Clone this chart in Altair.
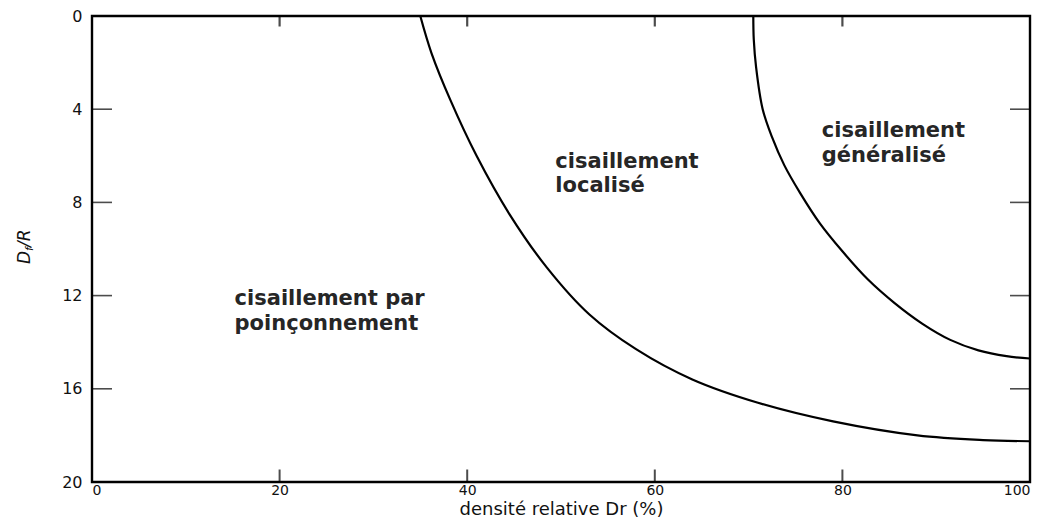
import altair as alt
import pandas as pd

# Curve 1: boundary punching shear / local shear
c1_dr = [35.0, 36.2, 38.2, 41.0, 44.5, 48.5, 53.0, 58.0, 64.0, 71.0, 79.0, 88.0, 95.0, 100.0]
c1_dfr = [0.0, 1.6, 3.6, 6.0, 8.5, 10.8, 12.8, 14.3, 15.6, 16.6, 17.4, 18.0, 18.2, 18.25]
# Curve 2: boundary local shear / general shear
c2_dr = [70.5, 70.55, 70.8, 71.5, 72.5, 73.8, 75.5, 77.6, 80.0, 82.7, 85.5, 88.5,
         91.5, 94.5, 97.5, 100.0]
c2_dfr = [0.0, 1.0, 2.2, 4.0, 5.2, 6.4, 7.6, 8.9, 10.1, 11.3, 12.3, 13.2,
          13.9, 14.35, 14.6, 14.7]

# Annotations
ann_text = ["cisaillement par", "poinçonnement", "cisaillement", "localisé",
            "cisaillement", "généralisé"]
ann_x = [15.2, 15.2, 49.4, 49.4, 77.8, 77.8]
ann_y = [12.15, 13.2, 6.25, 7.3, 4.95, 6.0]

x_tick_vals = [0, 20, 40, 60, 80, 100]
y_tick_vals = [0, 4, 8, 12, 16, 20]
x_inner = [20, 40, 60, 80]
y_inner = [4, 8, 12, 16]

W, H = 938, 466
FONT = "DejaVu Sans"

curves = pd.DataFrame({
    "dr": c1_dr + c2_dr,
    "dfr": c1_dfr + c2_dfr,
    "curve": ["c1"] * len(c1_dr) + ["c2"] * len(c2_dr),
    "order": list(range(len(c1_dr))) + list(range(len(c2_dr))),
})
ann = pd.DataFrame({"x": ann_x, "y": ann_y, "t": ann_text})
xt = pd.DataFrame({"v": x_inner})
yt = pd.DataFrame({"v": y_inner})

xs = alt.Scale(domain=[0, 100], nice=False, zero=False)
ys = alt.Scale(domain=[0, 20], reverse=True, nice=False, zero=False)

x_axis = alt.Axis(values=x_tick_vals, tickSize=0, domain=False, grid=False,
                  labelFont=FONT, labelFontSize=14, labelColor="#111",
                  labelPadding=1, title="densité relative Dr (%)",
                  titleFont=FONT, titleFontSize=18, titleFontWeight="normal",
                  titleColor="#111", titleY=27, titleBaseline="middle")
y_axis = alt.Axis(values=y_tick_vals, tickSize=0, domain=False, grid=False,
                  labelFont=FONT, labelFontSize=16, labelColor="#111",
                  labelPadding=10, title=None)

lines = alt.Chart(curves).mark_line(color="black", strokeWidth=2.2,
                                    interpolate="catmull-rom").encode(
    x=alt.X("dr:Q", scale=xs, axis=x_axis),
    y=alt.Y("dfr:Q", scale=ys, axis=y_axis),
    detail="curve:N",
    order="order:Q",
)

texts = alt.Chart(ann).mark_text(align="left", baseline="middle", font=FONT,
                                 fontSize=21, fontWeight="bold",
                                 color="#262626").encode(
    x=alt.X("x:Q", scale=xs), y=alt.Y("y:Q", scale=ys), text="t:N")

left_ticks = alt.Chart(yt).mark_tick(orient="horizontal", size=20, thickness=1.6,
                                     color="black", xOffset=10).encode(
    x=alt.datum(0, scale=xs), y=alt.Y("v:Q", scale=ys))
right_ticks = alt.Chart(yt).mark_tick(orient="horizontal", size=20, thickness=1.6,
                                      color="black", xOffset=-10).encode(
    x=alt.datum(100, scale=xs), y=alt.Y("v:Q", scale=ys))
bottom_ticks = alt.Chart(xt).mark_tick(orient="vertical", size=13, thickness=2,
                                       color="black", yOffset=-6).encode(
    x=alt.X("v:Q", scale=xs), y=alt.datum(20, scale=ys))
top_ticks = alt.Chart(xt).mark_tick(orient="vertical", size=11, thickness=2.2,
                                    color="black", yOffset=5).encode(
    x=alt.X("v:Q", scale=xs), y=alt.datum(0, scale=ys))

# y-axis title D_f/R, rotated, with a subscript f
ytitle = pd.DataFrame({"t": ["D", "f", "/R"], "px": [-67, -62, -67],
                       "py": [248, 235, 231], "fs": [17, 11, 17]})
ytitle_marks = alt.Chart(ytitle).mark_text(
    angle=270, align="left", baseline="middle", font=FONT, fontStyle="italic",
    color="#111").encode(
    x=alt.X("px:Q", scale=None), y=alt.Y("py:Q", scale=None), text="t:N",
    size=alt.Size("fs:Q", scale=None, legend=None))

chart = alt.layer(lines, texts, left_ticks, right_ticks, bottom_ticks, top_ticks,
                  ytitle_marks).properties(
    width=W, height=H,
    background="white",
    autosize=alt.AutoSizeParams(type="none"),
    padding={"left": 84, "top": 8, "right": 8, "bottom": 37},
).configure_view(stroke="black", strokeWidth=2.4)

chart.save("out.html", embed_options={"renderer": "svg", "actions": False})
